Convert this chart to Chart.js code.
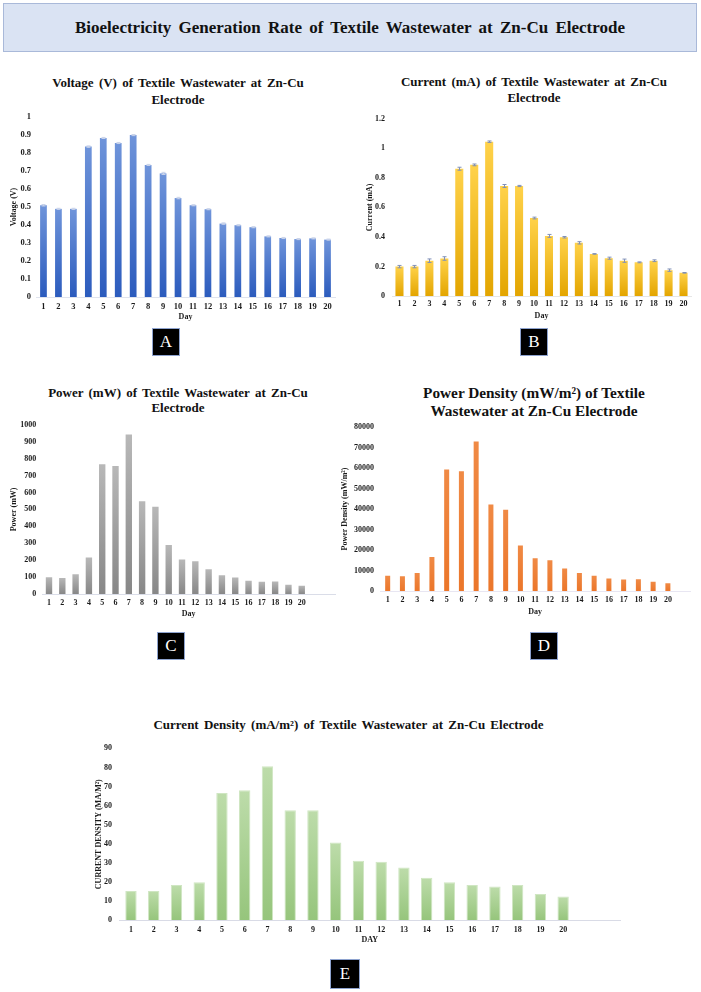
<!DOCTYPE html>
<html><head><meta charset="utf-8">
<script src="https://cdn.jsdelivr.net/npm/chart.js@4.4.1/dist/chart.umd.min.js"></script>
<style>
html,body{margin:0;padding:0;background:#fff;}
#page{position:relative;width:701px;height:992px;overflow:hidden;font-family:"Liberation Serif","Times New Roman",serif;}
#mainTitle{position:absolute;left:3px;top:3px;width:694px;height:49px;background:#dae3f3;border:1px solid #a9b9d9;box-sizing:border-box;display:flex;align-items:center;justify-content:center;font-weight:bold;font-size:17px;word-spacing:3px;color:#111;}
.ptitle{position:absolute;text-align:center;font-weight:bold;color:#111;white-space:nowrap;width:420px;}
.tag{position:absolute;background:#000;border:1px solid #8ea3cf;box-sizing:border-box;color:#fff;font-size:17px;display:flex;align-items:center;justify-content:center;}
canvas{position:absolute;}
</style></head>
<body><div id="page">
<div id="mainTitle">Bioelectricity Generation Rate of Textile Wastewater at Zn-Cu Electrode</div>
<div class="ptitle" id="tA">Voltage (V) of Textile Wastewater at Zn-Cu<br>Electrode</div>
<div class="ptitle" id="tB">Current (mA) of Textile Wastewater at Zn-Cu<br>Electrode</div>
<div class="ptitle" id="tC">Power (mW) of Textile Wastewater at Zn-Cu<br>Electrode</div>
<div class="ptitle" id="tD">Power Density (mW/m²) of Textile<br>Wastewater at Zn-Cu Electrode</div>
<div class="ptitle" id="tE">Current Density (mA/m²) of Textile Wastewater at Zn-Cu Electrode</div>
<canvas id="cA"></canvas><canvas id="cB"></canvas><canvas id="cC"></canvas><canvas id="cD"></canvas><canvas id="cE"></canvas>
<div class="tag" style="left:152px;top:328px;width:28px;height:28px;">A</div>
<div class="tag" style="left:520px;top:328px;width:28px;height:28px;">B</div>
<div class="tag" style="left:157px;top:632px;width:28px;height:28px;">C</div>
<div class="tag" style="left:530px;top:632px;width:28px;height:28px;">D</div>
<div class="tag" style="left:330px;top:959px;width:30px;height:30px;">E</div>
</div>
<script>
// ---------- data ----------
const days = ['1','2','3','4','5','6','7','8','9','10','11','12','13','14','15','16','17','18','19','20'];
const daysPad1 = ['1','2','3','4','5','6','7','8','9','10','11','12','13','14','15','16','17','18','19','20',''];
const daysPad2 = ['1','2','3','4','5','6','7','8','9','10','11','12','13','14','15','16','17','18','19','20','',''];

const voltage = [0.51,0.49,0.49,0.836,0.884,0.856,0.90,0.734,0.687,0.55,0.51,0.488,0.408,0.399,0.388,0.337,0.328,0.322,0.326,0.319];
const voltageErr = [0.004,0.003,0.003,0.004,0.003,0.003,0.003,0.003,0.006,0.004,0.003,0.003,0.004,0.003,0.003,0.003,0.003,0.003,0.003,0.003];

const current = [0.199,0.199,0.239,0.254,0.862,0.888,1.045,0.745,0.745,0.528,0.407,0.398,0.36,0.285,0.256,0.239,0.228,0.239,0.175,0.157];
const currentErr = [0.008,0.008,0.012,0.012,0.01,0.006,0.005,0.01,0.004,0.006,0.01,0.005,0.008,0.002,0.007,0.011,0.003,0.006,0.008,0.002];

const power = [99,95,117,216,767,757,942,548,515,289,204,194,146,111,97,78,72,74,54,49];

const powerDensity = [7490,7170,8765,16570,59280,58480,72990,42230,39680,22150,15940,14980,11000,8765,7490,6060,5580,5740,4460,3825];

const currentDensity = [15.2,15.2,18.3,19.8,66.6,68.1,80.6,57.5,57.5,40.6,31.1,30.6,27.5,22.2,19.8,18.3,17.6,18.3,13.7,12.3];

// ---------- helpers ----------
const SERIF = '"Liberation Serif","Times New Roman",serif';
function placeTitle(id, cx, top, size, lh){
  const el=document.getElementById(id);
  el.style.left=(cx-210)+'px'; el.style.top=top+'px';
  el.style.fontSize=size+'px'; el.style.lineHeight=lh+'px';
}
placeTitle('tA',178,75,13,16.5);
placeTitle('tB',534,74,13,15.5);
placeTitle('tC',178,384.5,13,15);
placeTitle('tD',534,384,15.3,18.4);
placeTitle('tE',348.5,717,13,16);
['tA','tB','tC','tE'].forEach(i=>document.getElementById(i).style.wordSpacing='2px');

function barGradient(top, bottom){
  return (ctx)=>{
    const chart=ctx.chart;
    if(!chart.chartArea || ctx.type!=='data' || ctx.raw==null) return bottom;
    const ys=chart.scales.y;
    const y0=ys.getPixelForValue(0), y1=ys.getPixelForValue(ctx.raw);
    if(!isFinite(y1)||!isFinite(y0)||y1===y0) return bottom;
    const g=chart.ctx.createLinearGradient(0,y1,0,y0);
    g.addColorStop(0,top); g.addColorStop(1,bottom);
    return g;
  };
}

const errorBarPlugin = {
  id:'errorBars',
  afterDatasetsDraw(chart, args, opts){
    if(!opts || !opts.errors) return;
    const meta=chart.getDatasetMeta(0), ys=chart.scales.y, c=chart.ctx;
    const data=chart.data.datasets[0].data;
    c.save(); c.strokeStyle=opts.color; c.lineWidth=1;
    meta.data.forEach((bar,i)=>{
      const v=data[i], e=opts.errors[i];
      if(v==null||e==null) return;
      const yt=ys.getPixelForValue(v+e), yb=ys.getPixelForValue(v-e), x=Math.round(bar.x)+0.5;
      c.beginPath();
      c.moveTo(x,yt); c.lineTo(x,yb);
      c.moveTo(x-opts.cap,yt); c.lineTo(x+opts.cap,yt);
      c.moveTo(x-opts.cap,yb); c.lineTo(x+opts.cap,yb);
      c.stroke();
    });
    c.restore();
  }
};

function makeChart(id, g, s){
  const left=g.cl-g.YW, top=g.ct-g.PT;
  const W=Math.round(g.cr+g.PR-left), H=Math.round(g.cb+g.XH+g.PB-top);
  const cv=document.getElementById(id);
  cv.width=W; cv.height=H;
  cv.style.left=left+'px'; cv.style.top=top+'px';
  cv.style.width=W+'px'; cv.style.height=H+'px';
  const tickFont={family:SERIF,size:s.tickSize||8,weight:'bold'};
  const titleFont={family:SERIF,size:s.titleSize||8,weight:'bold'};
  return new Chart(cv,{
    type:'bar',
    data:{labels:s.labels,datasets:[{
      data:s.data,
      backgroundColor:s.bg,
      borderColor:s.border||'rgba(0,0,0,0)',
      borderWidth:s.borderWidth||0,
      barPercentage:s.barPct,
      categoryPercentage:1
    }]},
    options:{
      responsive:false, animation:false, devicePixelRatio:1,
      layout:{padding:{left:0,top:g.PT,right:g.PR,bottom:g.PB}},
      plugins:{legend:{display:false},tooltip:{enabled:false},
        errorBars:s.errors?{errors:s.errors,color:s.errColor,cap:s.cap||2}:{}},
      scales:{
        x:{
          offset:true,
          grid:{display:false,drawTicks:false},
          border:{display:true,color:s.axisColor||'#d9d9d9',width:1},
          ticks:{font:tickFont,color:'#1a1a1a',padding:g.xTickPad,maxRotation:0,autoSkip:false},
          title:{display:true,text:s.xTitle,font:titleFont,color:'#1a1a1a',padding:{top:0,bottom:g.xTitlePad}},
          afterFit:(sc)=>{sc.height=g.XH;}
        },
        y:{
          min:0,max:s.max,
          grid:{display:false,drawTicks:false},
          border:{display:false},
          ticks:{stepSize:s.step,font:tickFont,color:'#1a1a1a',padding:g.yTickPad,
            callback:(v)=>String(+Number(v).toFixed(3))},
          title:{display:true,text:s.yTitle,font:titleFont,color:'#1a1a1a',padding:{top:g.yTitlePad,bottom:0}},
          afterFit:(sc)=>{sc.width=g.YW;}
        }
      }
    },
    plugins:[errorBarPlugin]
  });
}

// A: Voltage
makeChart('cA',{cl:36,cr:335,ct:115,cb:296.5,YW:36,PT:8,PR:5,XH:26,PB:2,yTitlePad:9.2,yTickPad:5,xTickPad:4.7,xTitlePad:1.7},
  {labels:days,data:voltage,max:1,step:0.1,xTitle:'Day',yTitle:'Voltage (V)',tickSize:8.5,
   bg:barGradient('#6f94da','#2b5bbd'),barPct:0.45,errors:voltageErr,errColor:'#c9d3ea',cap:2,axisColor:'#dfe3ee'});

// B: Current
makeChart('cB',{cl:392,cr:691,ct:115,cb:295.7,YW:32,PT:8,PR:5,XH:26,PB:2,yTitlePad:5.2,yTickPad:7,xTickPad:3.5,xTitlePad:1.2},
  {labels:days,data:current,max:1.2,step:0.2,xTitle:'Day',yTitle:'Current (mA)',
   bg:barGradient('#ffd24a','#e3a500'),barPct:0.54,errors:currentErr,errColor:'#8191b8',cap:2,axisColor:'#e6e6e6'});

// C: Power
makeChart('cC',{cl:42.35,cr:335,ct:422.3,cb:594,YW:42.35,PT:8,PR:5,XH:26,PB:2,yTitlePad:9.2,yTickPad:6,xTickPad:4.5,xTitlePad:0.9},
  {labels:daysPad2,data:power,max:1000,step:100,xTitle:'Day',yTitle:'Power (mW)',
   bg:barGradient('#b8b8b8','#878787'),barPct:0.48,axisColor:'#dadde8'});

// D: Power Density
makeChart('cD',{cl:380.3,cr:690,ct:423.7,cb:591,YW:43.3,PT:8,PR:5,XH:27,PB:2,yTitlePad:3.2,yTickPad:6.3,xTickPad:4.2,xTitlePad:0.9},
  {labels:daysPad1,data:powerDensity,max:80000,step:10000,xTitle:'Day',yTitle:'Power Density (mW/m²)',
   bg:barGradient('#f08a45','#eb762a'),barPct:0.34,axisColor:'#e8e6f2'});

// E: Current Density
makeChart('cE',{cl:119.6,cr:619.5,ct:744.3,cb:920,YW:29.6,PT:8,PR:5,XH:26,PB:2,yTitlePad:4.6,yTickPad:7.6,xTickPad:5.2,xTitlePad:1.2},
  {labels:daysPad2,data:currentDensity,max:90,step:10,xTitle:'DAY',yTitle:'CURRENT DENSITY (MA/M²)',
   bg:barGradient('#bddcaa','#96c57c'),border:'#cfe6c2',borderWidth:1,barPct:0.5,axisColor:'#d9dbe6'});
</script>
</body></html>
